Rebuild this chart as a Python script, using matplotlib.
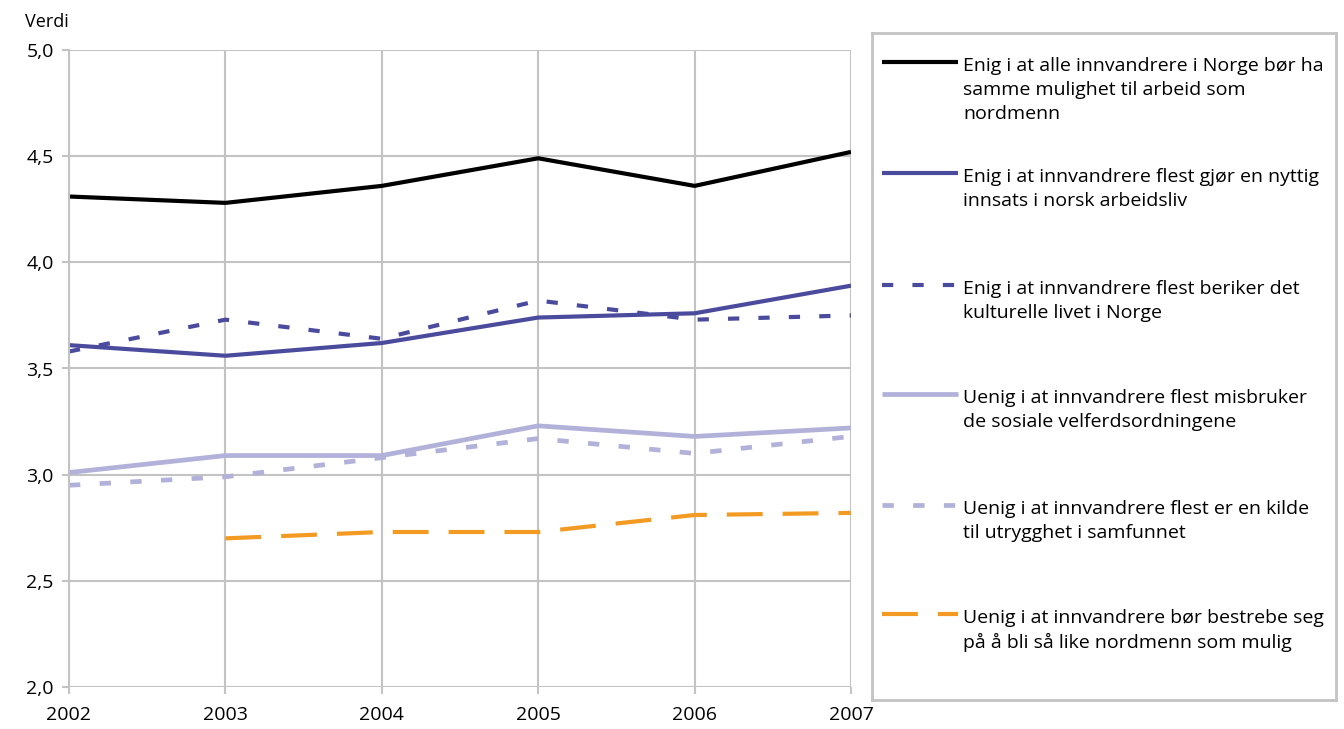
import matplotlib
matplotlib.use("Agg")
import matplotlib.pyplot as plt

plt.rcParams['font.family'] = ['Open Sans', 'DejaVu Sans']

years = [2002, 2003, 2004, 2005, 2006, 2007]

arbeid_lik = [4.31, 4.28, 4.36, 4.49, 4.36, 4.52]
nyttig_innsats = [3.61, 3.56, 3.62, 3.74, 3.76, 3.89]
beriker_kultur = [3.58, 3.73, 3.64, 3.82, 3.73, 3.75]
misbruker_velferd = [3.01, 3.09, 3.09, 3.23, 3.18, 3.22]
kilde_utrygghet = [2.95, 2.99, 3.08, 3.17, 3.10, 3.18]
orange_years = [2003, 2004, 2005, 2006, 2007]
like_nordmenn = [2.70, 2.73, 2.73, 2.81, 2.82]

labels = [
    "Enig i at alle innvandrere i Norge bør ha\nsamme mulighet til arbeid som\nnordmenn",
    "Enig i at innvandrere flest gjør en nyttig\ninnsats i norsk arbeidsliv",
    "Enig i at innvandrere flest beriker det\nkulturelle livet i Norge",
    "Uenig i at innvandrere flest misbruker\nde sosiale velferdsordningene",
    "Uenig i at innvandrere flest er en kilde\ntil utrygghet i samfunnet",
    "Uenig i at innvandrere bør bestrebe seg\npå å bli så like nordmenn som mulig",
]

dark_blue = '#4b4b9e'
light_blue = '#b1b1d9'
orange = '#f39a22'
grid_col = '#c3c3c3'

styles = [
    dict(color='black', lw=3.0),
    dict(color=dark_blue, lw=3.0),
    dict(color=dark_blue, lw=3.0, dashes=(2.7, 4.6)),
    dict(color=light_blue, lw=3.4),
    dict(color=light_blue, lw=3.4, dashes=(2.4, 4.1)),
    dict(color=orange, lw=3.0, dashes=(8.6, 4.8)),
]

series = [
    (years, arbeid_lik),
    (years, nyttig_innsats),
    (years, beriker_kultur),
    (years, misbruker_velferd),
    (years, kilde_utrygghet),
    (orange_years, like_nordmenn),
]

W, H = 1344, 729
fig = plt.figure(figsize=(W / 100, H / 100), dpi=100)
ax = fig.add_axes([69 / W, (H - 687) / H, 782 / W, 637 / H])

for (xs, ys), st in zip(series, styles):
    ax.plot(xs, ys, solid_capstyle='butt', dash_capstyle='butt', **st)

ax.set_xlim(2002, 2007)
ax.set_ylim(2.0, 5.0)
ax.set_xticks(years)
ax.set_yticks([2.0, 2.5, 3.0, 3.5, 4.0, 4.5, 5.0])
ax.set_yticklabels([f"{v:.1f}".replace('.', ',') for v in ax.get_yticks()])
ax.grid(True, color=grid_col, lw=1.5)
ax.set_axisbelow(True)
for s in ['top', 'right', 'bottom']:
    ax.spines[s].set_visible(False)
ax.spines['left'].set_color(grid_col)
ax.spines['left'].set_linewidth(1.5)
ax.tick_params(axis='y', length=5, width=1.5, color=grid_col, labelsize=14, pad=6)
ax.tick_params(axis='x', length=5, width=1.5, color=grid_col, labelsize=14, pad=9)
fig.text(25 / W, 1 - 22 / H, "Verdi", fontsize=13, va='center', ha='left')

# legend box
lax = fig.add_axes([872 / W, (H - 700) / H, 464 / W, 667 / H])
lax.set_xlim(872, 1336)
lax.set_ylim(700, 33)
lax.set_xticks([])
lax.set_yticks([])
for s in lax.spines.values():
    s.set_color(grid_col)
    s.set_linewidth(2)
handle_y = [62, 173, 285, 394, 505, 614]
for y, st, lab in zip(handle_y, styles, labels):
    lax.plot([882, 958], [y, y], solid_capstyle='butt', dash_capstyle='butt', **st)
    lax.text(963, y - 5, lab, fontsize=14, va='top', ha='left', linespacing=1.42)

fig.savefig("out.png", dpi=100)
